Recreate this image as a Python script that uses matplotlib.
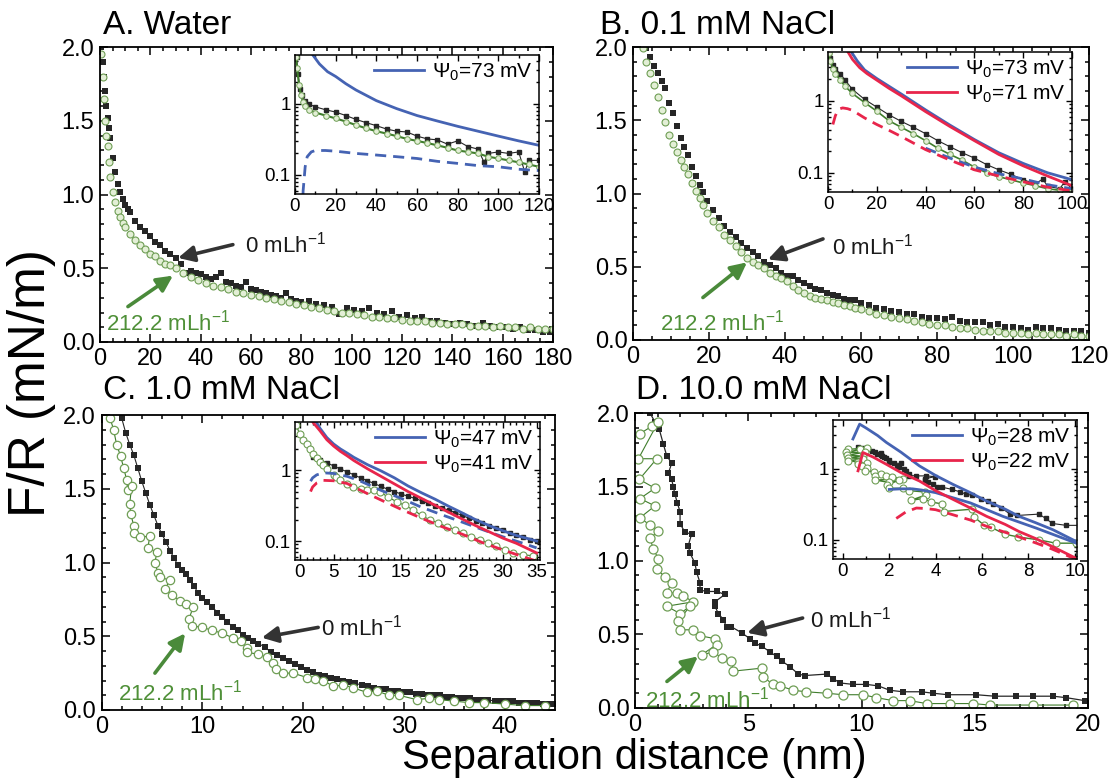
import matplotlib
matplotlib.use("Agg")
import matplotlib.pyplot as plt
from matplotlib.ticker import MultipleLocator, FormatStrFormatter, LogLocator, NullFormatter

# ---------------- data ----------------
# A. Water
a_black_x = [0.5, 1, 1.5, 2, 2.5, 3, 3.5, 4, 5, 6, 7, 8, 9, 10, 11, 12, 14, 16, 18, 20, 22, 24, 26, 28, 30, 32, 34,
             36, 38, 40, 42, 44, 46, 48, 50, 52, 54, 56, 58, 60, 62, 64, 66, 68, 70, 72, 74, 76, 78, 80, 83, 86, 89,
             92, 95, 98, 101, 104, 107, 110, 113, 116, 119, 122, 125, 128, 131, 134, 137, 140, 143, 146, 149, 152,
             155, 158, 161, 164, 167, 170, 173, 176, 179]
a_black_y = [2.0, 1.9, 1.8, 1.7, 1.6, 1.52, 1.45, 1.38, 1.25, 1.15, 1.07, 1.02, 0.97, 0.93, 0.9, 0.88, 0.82, 0.78,
             0.75, 0.72, 0.68, 0.66, 0.62, 0.6, 0.57, 0.53, 0.47, 0.48, 0.47, 0.46, 0.44, 0.43, 0.44, 0.47, 0.41, 0.4,
             0.38, 0.37, 0.41, 0.36, 0.35, 0.34, 0.33, 0.32, 0.31, 0.3, 0.33, 0.29, 0.28, 0.27, 0.28, 0.26, 0.25,
             0.24, 0.19, 0.23, 0.22, 0.21, 0.23, 0.2, 0.19, 0.21, 0.17, 0.18, 0.16, 0.17, 0.14, 0.14, 0.13, 0.12,
             0.13, 0.12, 0.11, 0.13, 0.11, 0.1, 0.1, 0.09, 0.1, 0.08, 0.08, 0.07, 0.07]
a_green_x = [0.5, 1, 1.5, 2, 2.5, 3, 3.5, 4, 5, 6, 7, 8, 9, 10, 12, 14, 16, 18, 20, 22, 24, 26, 28, 30, 33, 36, 39,
             42, 45, 48, 51, 54, 57, 60, 63, 66, 69, 72, 75, 78, 81, 84, 87, 90, 93, 96, 99, 102, 105, 108, 111, 114,
             117, 120, 123, 126, 129, 132, 135, 138, 141, 144, 147, 150, 153, 156, 159, 162, 165, 168, 171, 174,
             177, 180]
a_green_y = [1.95, 1.8, 1.65, 1.5, 1.4, 1.33, 1.22, 1.12, 1.02, 0.95, 0.89, 0.85, 0.81, 0.78, 0.73, 0.69, 0.66, 0.63,
             0.6, 0.58, 0.55, 0.53, 0.52, 0.5, 0.47, 0.44, 0.42, 0.4, 0.38, 0.37, 0.36, 0.34, 0.33, 0.32, 0.31, 0.3,
             0.29, 0.28, 0.27, 0.26, 0.25, 0.24, 0.23, 0.22, 0.21, 0.2, 0.2, 0.19, 0.18, 0.17, 0.17, 0.16, 0.16,
             0.15, 0.14, 0.14, 0.14, 0.13, 0.13, 0.12, 0.12, 0.12, 0.11, 0.11, 0.11, 0.1, 0.11, 0.1, 0.1, 0.09, 0.1,
             0.09, 0.09, 0.09]
# inset A (log scale)
ia_black_x = [0.8, 1.5, 2.5, 3.5, 5, 7, 10, 15, 20, 25, 30, 35, 40, 45, 50, 55, 60, 65, 70, 75, 80, 85, 90, 93, 95,
              100, 105, 110, 113, 115, 120]
ia_black_y = [4.5, 2.6, 1.6, 1.3, 1.1, 0.98, 0.9, 0.82, 0.76, 0.68, 0.6, 0.54, 0.49, 0.44, 0.41, 0.4, 0.35, 0.32,
              0.31, 0.27, 0.3, 0.25, 0.23, 0.15, 0.2, 0.21, 0.2, 0.21, 0.11, 0.16, 0.16]
ia_green_x = [0.5, 1, 2, 3, 4, 5, 7, 10, 15, 20, 25, 30, 35, 40, 45, 50, 55, 60, 65, 70, 75, 80, 85, 90, 95, 100,
              105, 110, 115, 120]
ia_green_y = [4.5, 3.2, 1.8, 1.3, 1.05, 0.92, 0.82, 0.75, 0.68, 0.62, 0.56, 0.5, 0.45, 0.41, 0.38, 0.35, 0.32, 0.3,
              0.28, 0.26, 0.24, 0.22, 0.21, 0.2, 0.18, 0.17, 0.16, 0.15, 0.14, 0.13]
ia_fit_x = [9, 12, 16, 20, 25, 30, 40, 50, 60, 70, 80, 90, 100, 110, 120]
ia_fit_y = [4.7, 3.6, 2.8, 2.4, 1.9, 1.55, 1.1, 0.85, 0.68, 0.57, 0.48, 0.41, 0.35, 0.3, 0.26]
ia_dash_x = [3.6, 4, 5, 6, 8, 10, 15, 20, 30, 40, 50, 60, 70, 80, 90, 100, 110, 120]
ia_dash_y = [0.03, 0.06, 0.13, 0.18, 0.21, 0.22, 0.22, 0.215, 0.2, 0.19, 0.18, 0.17, 0.155, 0.145, 0.135, 0.13,
             0.12, 0.115]

# B. 0.1 mM NaCl
b_black_x = [3.5, 4.5, 5.5, 6.5, 7.5, 8.5, 9.5, 10.5, 11.5, 12.5, 13.5, 14.5, 15.5, 16.5, 17.5, 18.5, 19.5, 21,
             22.5, 24, 25.5, 27, 28.5, 30, 31.5, 33, 34.5, 36, 37.5, 39, 40.5, 42, 43.5, 45, 46.5, 48, 49.5, 51,
             52.5, 54, 55.5, 57, 58.5, 60, 62, 64, 66, 68, 70, 72, 74, 76, 78, 80, 82, 84, 86, 88, 90, 92, 94, 96,
             98, 100, 102, 104, 106, 108, 110, 112, 114, 116, 118, 120]
b_black_y = [1.99, 1.93, 1.87, 1.82, 1.77, 1.72, 1.62, 1.55, 1.46, 1.38, 1.32, 1.26, 1.18, 1.12, 1.06, 1.01, 0.95,
             0.89, 0.83, 0.78, 0.74, 0.7, 0.66, 0.63, 0.6, 0.57, 0.53, 0.51, 0.49, 0.46, 0.44, 0.44, 0.41, 0.39,
             0.37, 0.35, 0.34, 0.32, 0.31, 0.3, 0.28, 0.27, 0.27, 0.25, 0.24, 0.22, 0.21, 0.2, 0.19, 0.18, 0.18,
             0.16, 0.15, 0.15, 0.14, 0.16, 0.13, 0.12, 0.12, 0.12, 0.1, 0.11, 0.09, 0.09, 0.08, 0.07, 0.09, 0.08,
             0.08, 0.07, 0.06, 0.06, 0.06, 0.05]
b_green_x = [2.5, 3.5, 4.5, 5.5, 6.5, 7.5, 8.5, 9.5, 10.5, 11.5, 12.5, 13.5, 14.5, 15.5, 16.5, 17.5, 18.5, 19.5, 21,
             22.5, 24, 25.5, 27, 28.5, 30, 31.5, 33, 34.5, 36, 37.5, 39, 40.5, 42, 43.5, 45, 46.5, 48, 49.5, 51,
             52.5, 54, 55.5, 57, 58.5, 60, 62, 64, 66, 68, 70, 72, 74, 76, 78, 80, 82, 84, 86, 88, 90, 92, 94, 96,
             98, 100, 102, 104, 106, 108, 110, 112, 114, 116, 118, 120]
b_green_y = [1.99, 1.9, 1.82, 1.74, 1.66, 1.57, 1.49, 1.4, 1.34, 1.28, 1.23, 1.18, 1.13, 1.07, 1.02, 0.97, 0.92,
             0.87, 0.81, 0.77, 0.72, 0.68, 0.64, 0.6, 0.56, 0.53, 0.51, 0.49, 0.46, 0.44, 0.42, 0.4, 0.37, 0.34,
             0.32, 0.3, 0.29, 0.28, 0.27, 0.26, 0.25, 0.24, 0.23, 0.22, 0.21, 0.2, 0.18, 0.17, 0.16, 0.15, 0.14,
             0.13, 0.12, 0.11, 0.1, 0.1, 0.09, 0.08, 0.08, 0.07, 0.06, 0.06, 0.06, 0.05, 0.05, 0.05, 0.04, 0.05,
             0.04, 0.04, 0.04, 0.03, 0.04, 0.03, 0.03]
ib_black_x = [0.5, 1, 2, 3, 5, 7, 10, 15, 20, 25, 30, 35, 40, 45, 50, 55, 60, 65, 70, 75, 80, 85, 88, 90, 95, 97, 100]
ib_black_y = [4.6, 3.9, 3.2, 2.8, 2.4, 1.95, 1.45, 1.05, 0.82, 0.64, 0.52, 0.43, 0.35, 0.28, 0.23, 0.19, 0.16,
              0.13, 0.11, 0.095, 0.08, 0.07, 0.082, 0.065, 0.06, 0.075, 0.06]
ib_green_x = [0.3, 1, 2, 3, 5, 7, 10, 15, 20, 25, 30, 35, 40, 45, 50, 55, 60, 65, 70, 75, 80, 85, 90, 95, 100]
ib_green_y = [4.6, 3.6, 2.8, 2.4, 1.95, 1.6, 1.27, 0.95, 0.72, 0.53, 0.43, 0.35, 0.28, 0.22, 0.18, 0.15, 0.12, 0.1,
              0.088, 0.08, 0.072, 0.066, 0.06, 0.057, 0.055]
ib_fit73_x = [9.6, 12, 15, 20, 25, 30, 40, 50, 60, 70, 80, 90, 100]
ib_fit73_y = [4.8, 3.6, 2.7, 2.05, 1.6, 1.25, 0.75, 0.46, 0.29, 0.19, 0.135, 0.1, 0.08]
ib_fit71_x = [8.2, 10, 13, 16, 20, 25, 30, 40, 50, 60, 70, 80, 90, 100]
ib_fit71_y = [4.8, 3.8, 2.9, 2.4, 1.95, 1.5, 1.18, 0.71, 0.44, 0.28, 0.18, 0.125, 0.09, 0.066]
ib_dash73_x = [40, 50, 60, 70, 80, 90, 100]
ib_dash73_y = [0.22, 0.16, 0.12, 0.097, 0.082, 0.068, 0.06]
ib_dash71_x = [2, 3, 4, 5, 6, 8, 10, 15, 20, 25, 30, 40, 50, 60, 70, 80, 90, 100]
ib_dash71_y = [0.47, 0.62, 0.74, 0.78, 0.8, 0.78, 0.74, 0.58, 0.47, 0.39, 0.32, 0.21, 0.15, 0.11, 0.09, 0.075,
               0.063, 0.056]

# C. 1.0 mM NaCl
c_black_x = [2.0, 2.4, 2.8, 3.2, 3.6, 4.0, 4.4, 4.8, 5.2, 5.6, 6.0, 6.4, 6.8, 7.2, 7.6, 8.0, 8.4, 8.8, 9.2, 9.6,
             10.0, 10.5, 11.0, 11.5, 12.0, 12.5, 13.0, 13.5, 14.0, 14.5, 15.0, 15.5, 16.2, 16.8, 17.4, 18.0, 18.6,
             19.2, 19.8, 20.4, 21.0, 21.6, 22.2, 22.8, 23.4, 24.0, 24.6, 25.2, 25.8, 26.4, 27.0, 27.6, 28.2, 28.8,
             29.4, 30.0, 30.6, 31.2, 31.8, 32.4, 33.0, 33.6, 34.2, 34.8, 35.4, 36.0, 36.6, 37.2, 37.8, 38.4, 39.0,
             39.6, 40.2, 40.8, 41.4, 42.0, 42.6, 43.2, 43.8, 44.4, 45.0]
c_black_y = [1.98, 1.88, 1.8, 1.73, 1.64, 1.55, 1.47, 1.39, 1.32, 1.25, 1.19, 1.14, 1.08, 1.03, 0.98, 0.95, 0.92,
             0.88, 0.84, 0.79, 0.76, 0.73, 0.7, 0.66, 0.63, 0.6, 0.56, 0.54, 0.51, 0.49, 0.47, 0.45, 0.43, 0.39,
             0.37, 0.35, 0.33, 0.31, 0.29, 0.27, 0.26, 0.24, 0.23, 0.22, 0.21, 0.2, 0.19, 0.18, 0.17, 0.16, 0.15,
             0.14, 0.14, 0.13, 0.13, 0.12, 0.12, 0.11, 0.11, 0.1, 0.1, 0.1, 0.09, 0.09, 0.08, 0.08, 0.08, 0.07, 0.07,
             0.07, 0.06, 0.06, 0.06, 0.06, 0.05, 0.05, 0.05, 0.05, 0.04, 0.04, 0.04]
c_green_x = [0.85, 1.2, 1.5, 1.9, 2.2, 2.5, 2.6, 3.0, 2.8, 2.9, 3.2, 3.2, 3.8, 4.8, 4.6, 5.5, 5.3, 5.6, 5.8, 6.8,
             6.3, 7.0, 7.8, 8.4, 9.1, 8.7, 9.0, 10.0, 11.0, 12.0, 13.0, 13.8, 14.4, 14.4, 15.5, 16.4, 17.0, 17.3,
             18.0, 19.0, 20.4, 21.2, 22.0, 23.0, 24.0, 25.0, 26.3, 27.3, 28.5, 29.5, 31.3, 32.5, 33.5, 35.0, 36.5,
             38.0, 40.0, 42.0, 44.0]
c_green_y = [1.98, 1.9, 1.8, 1.72, 1.64, 1.56, 1.49, 1.52, 1.4, 1.33, 1.25, 1.2, 1.17, 1.18, 1.1, 1.07, 1.0, 0.93,
             0.9, 0.88, 0.82, 0.78, 0.74, 0.72, 0.7, 0.62, 0.57, 0.56, 0.54, 0.52, 0.49, 0.47, 0.42, 0.39, 0.38,
             0.36, 0.32, 0.28, 0.25, 0.25, 0.22, 0.21, 0.2, 0.16, 0.17, 0.15, 0.12, 0.13, 0.1, 0.1, 0.07, 0.08,
             0.07, 0.06, 0.05, 0.05, 0.04, 0.03, 0.03]
ic_black_x = [2, 3, 4, 5, 6, 7, 8, 9, 10, 11, 12, 13, 14, 15, 16, 17, 18, 19, 20, 21, 22, 23, 24, 25, 26, 27, 28,
              29, 30, 31, 32, 33, 34, 35]
ic_black_y = [1.55, 1.4, 1.28, 1.15, 1.04, 0.95, 0.86, 0.78, 0.71, 0.65, 0.59, 0.54, 0.5, 0.46, 0.43, 0.4, 0.37,
              0.34, 0.31, 0.29, 0.275, 0.25, 0.23, 0.21, 0.195, 0.18, 0.165, 0.155, 0.145, 0.13, 0.12, 0.115, 0.105,
              0.1]
ic_green_x = [-0.5, 0, 0.5, 1, 1.5, 2, 2.5, 3, 3.5, 4, 5, 5.4, 6, 7, 7.9, 9, 9.9, 11, 11.8, 13, 14.3, 15.5, 16.8,
              18, 19.2, 20.5, 21.7, 23, 24.1, 25.3, 26.6, 27.8, 29, 30.3, 31.5, 33, 34.5]
ic_green_y = [4.3, 3.2, 2.7, 2.35, 2.0, 1.7, 1.5, 1.3, 1.17, 1.05, 0.85, 0.8, 0.72, 0.64, 0.58, 0.55, 0.52, 0.53,
              0.5, 0.42, 0.36, 0.32, 0.275, 0.23, 0.2, 0.18, 0.16, 0.145, 0.13, 0.115, 0.105, 0.095, 0.085, 0.075,
              0.068, 0.064, 0.062]
ic_fit47_x = [2.5, 3, 4, 5, 6, 7, 8, 10, 12, 14, 16, 18, 20, 22, 24, 26, 28, 30, 32, 35]
ic_fit47_y = [4.7, 3.9, 2.9, 2.35, 2.0, 1.75, 1.52, 1.2, 0.98, 0.78, 0.6, 0.48, 0.39, 0.31, 0.25, 0.2, 0.165, 0.14,
              0.12, 0.1]
ic_fit41_x = [2, 3, 4, 5, 6, 7, 8, 10, 12, 14, 16, 18, 20, 22, 24, 26, 28, 30, 32, 35]
ic_fit41_y = [4.7, 3.6, 2.7, 2.2, 1.85, 1.6, 1.37, 1.05, 0.82, 0.64, 0.5, 0.4, 0.32, 0.255, 0.205, 0.165, 0.135,
              0.11, 0.093, 0.068]
ic_dash47_x = [1.6, 1.9, 2.5, 3.5, 5, 7, 9, 12, 15, 18, 21, 24, 27, 30, 33, 35]
ic_dash47_y = [0.7, 0.78, 0.86, 0.92, 0.9, 0.82, 0.7, 0.52, 0.4, 0.3, 0.235, 0.185, 0.145, 0.115, 0.093, 0.08]
ic_dash41_x = [1.6, 1.9, 2.5, 3.5, 5, 7, 9, 12, 15, 18, 21, 24, 27, 30, 33, 35]
ic_dash41_y = [0.5, 0.58, 0.66, 0.72, 0.71, 0.65, 0.52, 0.38, 0.28, 0.21, 0.16, 0.125, 0.095, 0.075, 0.06, 0.052]

# D. 10.0 mM NaCl (same points are used again in the inset)
d_black_x = [0.66, 0.88, 1.07, 1.25, 1.40, 1.62, 1.47, 1.62, 1.69, 1.76, 1.87, 1.99, 1.99, 2.21, 2.50, 2.35, 2.43,
             2.65, 2.72, 2.87, 2.87, 3.16, 3.60, 3.97, 3.53, 3.53, 3.68, 3.90, 4.04, 4.26, 4.71, 5.07, 5.29, 5.59,
             5.96, 6.25, 6.47, 6.84, 7.21, 7.50, 8.46, 8.75, 9.04, 9.63, 10.22, 10.74, 11.25, 11.84, 12.65, 13.16,
             13.82, 15.07, 15.88, 16.84, 17.57, 18.46, 19.04, 19.85]
d_black_y = [2.00, 1.94, 1.89, 1.79, 1.71, 1.66, 1.59, 1.55, 1.50, 1.45, 1.39, 1.33, 1.25, 1.19, 1.18, 1.10, 1.05,
             0.98, 0.92, 0.85, 0.80, 0.79, 0.79, 0.77, 0.72, 0.69, 0.64, 0.60, 0.55, 0.55, 0.51, 0.47, 0.44, 0.42,
             0.38, 0.35, 0.32, 0.28, 0.23, 0.22, 0.23, 0.20, 0.17, 0.16, 0.16, 0.15, 0.12, 0.11, 0.11, 0.10, 0.09,
             0.09, 0.08, 0.08, 0.08, 0.08, 0.07, 0.05]
d_green_x = [0.22, 0.74, 1.03, 0.15, 0.96, 0.19, 0.88, 0.22, 0.88, 0.22, 0.66, 1.03, 0.66, 0.81, 1.03, 0.96, 1.32,
             1.62, 1.40, 1.84, 2.13, 2.57, 1.40, 1.99, 2.43, 1.91, 1.99, 2.57, 2.87, 3.53, 3.60, 2.94, 3.46, 3.82,
             4.26, 4.34, 5.59, 5.66, 6.10, 6.40, 6.99, 7.57, 8.46, 9.19, 10.07, 10.66, 11.40, 12.13, 12.87, 13.90,
             14.93, 15.66, 17.57, 19.34]
d_green_y = [1.86, 1.91, 1.94, 1.69, 1.69, 1.55, 1.49, 1.42, 1.37, 1.29, 1.24, 1.20, 1.15, 1.08, 1.01, 0.94, 0.89,
             0.85, 0.78, 0.78, 0.76, 0.72, 0.69, 0.64, 0.69, 0.59, 0.53, 0.53, 0.49, 0.47, 0.43, 0.36, 0.38, 0.34,
             0.32, 0.25, 0.27, 0.21, 0.16, 0.15, 0.12, 0.11, 0.10, 0.09, 0.09, 0.07, 0.05, 0.05, 0.03, 0.03, 0.03,
             0.02, 0.02, 0.02]
id_fit28_x = [0.43, 0.72, 1.0, 1.5, 1.87, 2.5, 3.3, 4.0, 4.75, 5.5, 6.2, 7.0, 7.6, 8.3, 9.06, 10.07]
id_fit28_y = [2.6, 4.2, 3.7, 2.9, 2.33, 1.7, 1.09, 0.8, 0.6, 0.46, 0.35, 0.27, 0.214, 0.175, 0.139, 0.095]
id_fit28b_x = [2.0, 2.5, 3.0, 3.4, 4.0, 5.5, 6.9, 8.35, 10.07]
id_fit28b_y = [0.51, 0.52, 0.52, 0.5, 0.46, 0.33, 0.214, 0.146, 0.09]
id_fit22_x = [0.65, 0.86, 1.3, 1.87, 2.5, 3.3, 4.0, 4.75, 5.5, 6.2, 7.0, 7.6, 8.3, 9.06, 10.07]
id_fit22_y = [0.93, 1.68, 1.45, 1.15, 0.88, 0.67, 0.49, 0.37, 0.28, 0.214, 0.165, 0.131, 0.105, 0.08, 0.055]
id_dash22_x = [2.3, 2.7, 3.17, 3.6, 4.0, 4.75, 5.5, 6.2, 6.9, 7.6, 8.35, 9.0, 9.8, 10.1]
id_dash22_y = [0.2, 0.245, 0.28, 0.275, 0.265, 0.225, 0.19, 0.155, 0.131, 0.11, 0.09, 0.075, 0.058, 0.054]

# ---------------- style ----------------
plt.rcParams['font.family'] = ['Liberation Sans', 'DejaVu Sans']
plt.rcParams['mathtext.fontset'] = 'custom'
plt.rcParams['mathtext.rm'] = 'Liberation Sans'
plt.rcParams['mathtext.it'] = 'Liberation Sans:italic'
plt.rcParams['mathtext.bf'] = 'Liberation Sans:bold'

BLACK = '#262626'
GREEN_EDGE = '#6f9e55'
GREEN_FACE = '#e3efd6'
GREEN_LINE = '#3f7d2c'
GREEN_TXT = '#4f9038'
BLUE = '#4563b3'
RED = '#e8254b'
ARROW_DARK = '#333333'

W, H = 1117, 778


def box(l, t, r, b):
    # pixel box of the reference -> figure fraction rect
    return [l / W, 1 - b / H, (r - l) / W, (b - t) / H]


def style_main(ax, xmax, xmajor, xminor):
    ax.set_xlim(0, xmax)
    ax.set_ylim(0, 2)
    ax.xaxis.set_major_locator(MultipleLocator(xmajor))
    ax.xaxis.set_minor_locator(MultipleLocator(xminor))
    ax.yaxis.set_major_locator(MultipleLocator(0.5))
    ax.yaxis.set_minor_locator(MultipleLocator(0.1))
    ax.yaxis.set_major_formatter(FormatStrFormatter('%.1f'))
    ax.tick_params(which='both', direction='in', top=True, right=True, width=1.1)
    ax.tick_params(which='major', length=6, labelsize=17, pad=4)
    ax.tick_params(which='minor', length=3)
    for s in ax.spines.values():
        s.set_linewidth(1.3)


def style_inset(ax, xlim, xmajor, xminor):
    ax.set_yscale('log')
    ax.set_ylim(0.054, 4.8)
    ax.set_xlim(*xlim)
    ax.set_yticks([0.1, 1])
    ax.set_yticklabels(['0.1', '1'])
    ax.yaxis.set_minor_locator(LogLocator(base=10, subs=range(2, 10)))
    ax.yaxis.set_minor_formatter(NullFormatter())
    ax.xaxis.set_major_locator(MultipleLocator(xmajor))
    ax.xaxis.set_minor_locator(MultipleLocator(xminor))
    ax.tick_params(which='both', direction='in', top=True, right=True, width=1)
    ax.tick_params(which='major', length=4, labelsize=13.5, pad=3)
    ax.tick_params(which='minor', length=2)
    for s in ax.spines.values():
        s.set_linewidth(1.1)


def inset_legend(ax):
    ax.legend(loc='upper right', frameon=False, fontsize=15, handlelength=2.4, handletextpad=0.4,
              borderaxespad=0.1, labelspacing=0.2, borderpad=0.2)


def arrows(ax, black_tail, black_head, black_txt, green_tail, green_head, green_txt):
    ax.annotate('', xy=black_head, xytext=black_tail,
                arrowprops=dict(arrowstyle='-|>', color=ARROW_DARK, lw=2.6, mutation_scale=24,
                                shrinkA=0, shrinkB=0))
    ax.text(black_txt[0], black_txt[1], r'0 mLh$^{\mathregular{-1}}$', fontsize=16, va='center', ha='left',
            color='#1a1a1a')
    ax.annotate('', xy=green_head, xytext=green_tail,
                arrowprops=dict(arrowstyle='-|>', color='#4a8a3a', lw=2.6, mutation_scale=24,
                                shrinkA=0, shrinkB=0))
    ax.text(green_txt[0], green_txt[1], r'212.2 mLh$^{\mathregular{-1}}$', fontsize=16, va='center', ha='left',
            color=GREEN_TXT)


fig = plt.figure(figsize=(W / 100, H / 100), dpi=100)

# ---- A ----
axA = fig.add_axes(box(100, 47, 553, 342))
axA.plot(a_black_x, a_black_y, 's', color=BLACK, ms=4.5, mew=0)
axA.plot(a_green_x, a_green_y, 'o', mfc=GREEN_FACE, mec=GREEN_EDGE, ms=5, mew=0.8)
style_main(axA, 180, 20, 5)
arrows(axA, (52.8, 0.66), (31.0, 0.57), (57.6, 0.66), (11.1, 0.24), (29.0, 0.45), (2.5, 0.13))

iaA = fig.add_axes(box(295, 55, 539, 194))
iaA.plot(ia_black_x, ia_black_y, 's-', color=BLACK, ms=3.5, lw=0.8)
iaA.plot(ia_green_x, ia_green_y, 'o-', color=GREEN_LINE, mfc=GREEN_FACE, mec=GREEN_EDGE, ms=4, lw=1.5, mew=0.7)
iaA.plot(ia_fit_x, ia_fit_y, '-', color=BLUE, lw=2, label=r'$\Psi_0$=73 mV')
iaA.plot(ia_dash_x, ia_dash_y, '--', color=BLUE, lw=2, dashes=(4, 2.5))
style_inset(iaA, (0, 120), 20, 10)
inset_legend(iaA)

# ---- B ----
axB = fig.add_axes(box(633, 47, 1089, 340))
axB.plot(b_black_x, b_black_y, 's', color=BLACK, ms=4.5, mew=0)
axB.plot(b_green_x, b_green_y, 'o', mfc=GREEN_FACE, mec=GREEN_EDGE, ms=5, mew=0.8)
style_main(axB, 120, 20, 5)
arrows(axB, (50.0, 0.69), (35.5, 0.55), (52.4, 0.635), (18.4, 0.29), (30.0, 0.53), (7.1, 0.12))

iaB = fig.add_axes(box(828, 52, 1072, 192))
iaB.plot(ib_black_x, ib_black_y, 's-', color=BLACK, ms=3.5, lw=0.8)
iaB.plot(ib_green_x, ib_green_y, 'o-', color=GREEN_LINE, mfc=GREEN_FACE, mec=GREEN_EDGE, ms=4, lw=1.2, mew=0.7)
iaB.plot(ib_dash73_x, ib_dash73_y, '--', color=BLUE, lw=2, dashes=(4, 2.5))
iaB.plot(ib_dash71_x, ib_dash71_y, '--', color=RED, lw=2, dashes=(4, 2.5))
iaB.plot(ib_fit73_x, ib_fit73_y, '-', color=BLUE, lw=2, label=r'$\Psi_0$=73 mV')
iaB.plot(ib_fit71_x, ib_fit71_y, '-', color=RED, lw=2, label=r'$\Psi_0$=71 mV')
style_inset(iaB, (0, 100), 20, 10)
inset_legend(iaB)

# ---- C ----
axC = fig.add_axes(box(101.5, 415, 555, 710))
axC.plot(c_black_x, c_black_y, 's-', color=BLACK, ms=5, mew=0, lw=0.8)
axC.plot(c_green_x, c_green_y, 'o-', color=GREEN_LINE, mfc='white', mec=GREEN_EDGE, ms=6, mew=0.9, lw=0.8)
style_main(axC, 45, 10, 2)
arrows(axC, (21.5, 0.56), (15.9, 0.49), (21.8, 0.56), (5.3, 0.25), (8.3, 0.52), (1.6, 0.12))

iaC = fig.add_axes(box(295, 422, 540, 560))
iaC.plot(ic_black_x, ic_black_y, 's-', color=BLACK, ms=3.5, lw=0.8)
iaC.plot(ic_green_x, ic_green_y, 'o-', color=GREEN_LINE, mfc='white', mec=GREEN_EDGE, ms=5, lw=0.8, mew=0.8)
iaC.plot(ic_dash47_x, ic_dash47_y, '--', color=BLUE, lw=2, dashes=(4, 2.5))
iaC.plot(ic_dash41_x, ic_dash41_y, '--', color=RED, lw=2, dashes=(4, 2.5))
iaC.plot(ic_fit47_x, ic_fit47_y, '-', color=BLUE, lw=2, label=r'$\Psi_0$=47 mV')
iaC.plot(ic_fit41_x, ic_fit41_y, '-', color=RED, lw=2, label=r'$\Psi_0$=41 mV')
style_inset(iaC, (-0.7, 35.5), 5, 1)
inset_legend(iaC)

# ---- D ----
axD = fig.add_axes(box(635, 413, 1088, 708))
axD.plot(d_black_x, d_black_y, 's-', color=BLACK, ms=5, mew=0, lw=0.9)
axD.plot(d_green_x, d_green_y, 'o-', color=GREEN_LINE, mfc='white', mec=GREEN_EDGE, ms=6.5, mew=0.9, lw=0.8)
style_main(axD, 20, 5, 1)
arrows(axD, (7.4, 0.61), (4.95, 0.51), (7.73, 0.60), (1.41, 0.18), (2.78, 0.35), (0.44, 0.055))

iaD = fig.add_axes(box(833, 420, 1077, 559))
iaD.plot(d_black_x, d_black_y, 's-', color=BLACK, ms=3.5, lw=0.8)
iaD.plot(d_green_x, d_green_y, 'o-', color=GREEN_LINE, mfc='white', mec=GREEN_EDGE, ms=5, lw=1, mew=0.8)
iaD.plot(id_fit28_x, id_fit28_y, '-', color=BLUE, lw=2, label=r'$\Psi_0$=28 mV')
iaD.plot(id_fit28b_x, id_fit28b_y, '-', color=BLUE, lw=2)
iaD.plot(id_dash22_x, id_dash22_y, '--', color=RED, lw=2, dashes=(4, 2.5))
iaD.plot(id_fit22_x, id_fit22_y, '-', color=RED, lw=2, label=r'$\Psi_0$=22 mV')
style_inset(iaD, (-0.43, 10.1), 2, 1)
inset_legend(iaD)

# ---- titles and shared labels ----
fig.text(103 / W, 1 - 34 / H, 'A. Water', fontsize=24, va='baseline', ha='left')
fig.text(600 / W, 1 - 34 / H, 'B. 0.1 mM NaCl', fontsize=24, va='baseline', ha='left')
fig.text(103 / W, 1 - 399 / H, 'C. 1.0 mM NaCl', fontsize=24, va='baseline', ha='left')
fig.text(636 / W, 1 - 399 / H, 'D. 10.0 mM NaCl', fontsize=24, va='baseline', ha='left')
fig.text(32 / W, 1 - 383 / H, 'F/R (mN/m)', fontsize=37, rotation=90, va='center', ha='center')
fig.text(634 / W, 1 - 769 / H, 'Separation distance (nm)', fontsize=30, va='baseline', ha='center')

fig.savefig('out.png', dpi=100)
